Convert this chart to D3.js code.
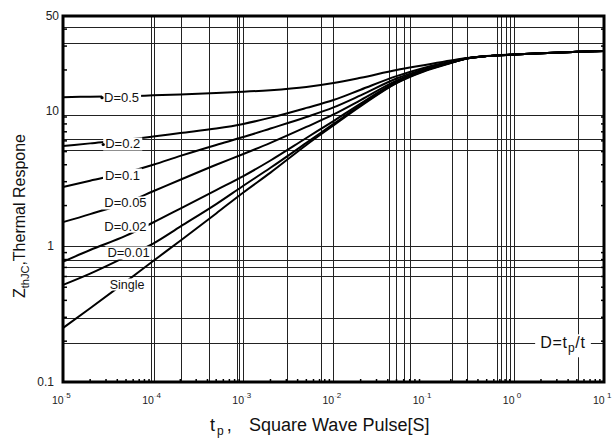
<!DOCTYPE html>
<html><head><meta charset="utf-8">
<script src="https://cdn.jsdelivr.net/npm/d3@7"></script>
<style>body{margin:0;background:#fff}svg{display:block;font-family:"Liberation Sans",Arial,sans-serif}</style>
</head><body><svg id="c" width="614" height="443"></svg>
<script>
// ---- data ----
const tp      = [1e-5, 2e-5, 5e-5, 1e-4, 2e-4, 5e-4, 1e-3, 2e-3, 5e-3, 1e-2, 2e-2, 5e-2, 0.1, 0.2, 0.3, 0.5, 1, 2, 5, 10];
const dHalf   = [12.6, 12.7, 12.8, 13.0, 13.2, 13.5, 13.8, 14.2, 15.0, 16.0, 17.5, 20.0, 21.7, 23.5, 24.5, 25.3, 26.0, 26.6, 27.2, 27.6];
const dFifth  = [5.5, 5.75, 6.1, 6.45, 6.85, 7.4, 8.0, 8.9, 10.5, 12.0, 14.3, 18.0, 20.7, 23.0, 24.4, 25.3, 26.0, 26.6, 27.2, 27.6];
const dTenth  = [2.74, 3.05, 3.5, 4.0, 4.65, 5.6, 6.4, 7.4, 9.0, 10.6, 13.0, 17.3, 20.2, 22.8, 24.3, 25.3, 26.0, 26.6, 27.2, 27.6];
const d005    = [1.51, 1.73, 2.1, 2.55, 3.1, 4.0, 4.8, 5.8, 7.6, 9.4, 12.0, 16.7, 19.9, 22.7, 24.3, 25.3, 26.0, 26.6, 27.2, 27.6];
const d002    = [0.77, 0.94, 1.2, 1.5, 1.9, 2.6, 3.3, 4.3, 6.3, 8.4, 11.3, 16.3, 19.7, 22.6, 24.3, 25.3, 26.0, 26.6, 27.2, 27.6];
const d001    = [0.52, 0.63, 0.84, 1.05, 1.4, 2.05, 2.8, 3.8, 5.8, 8.0, 11.0, 16.1, 19.6, 22.6, 24.3, 25.3, 26.0, 26.6, 27.2, 27.6];
const dSingle = [0.25, 0.35, 0.55, 0.78, 1.1, 1.75, 2.5, 3.5, 5.6, 7.8, 10.8, 16.0, 19.5, 22.5, 24.3, 25.3, 26.0, 26.6, 27.2, 27.6];
const seriesNames = ["D=0.5", "D=0.2", "D=0.1", "D=0.05", "D=0.02", "D=0.01", "Single"];
const seriesVals  = [dHalf, dFifth, dTenth, d005, d002, d001, dSingle];
// label anchor points (tp, Z) where each series name sits
const labelT = [4.46e-5, 4.6e-5, 4.57e-5, 4.93e-5, 4.93e-5, 5.33e-5, 5.13e-5];
const labelZ = [12.6, 5.69, 3.36, 2.09, 1.41, 0.894, 0.528];

const gridT = [9.4e-5, 1.02e-4, 2.03e-4, 4.13e-4, 8.4e-4, 9.0e-4, 1.0e-3, 3.07e-3, 7.2e-3, 9.8e-3,
               4.16e-2, 4.9e-2, 6.05e-2, 7.05e-2, 0.205, 0.305, 0.645, 0.72, 0.81, 0.906, 1.01, 5.19];
const gridZ = [41.7, 31.8, 9.3, 6.2, 5.1, 1.0, 0.80, 0.70, 0.605, 0.295, 0.193];
const xTickExp = [-5, -4, -3, -2, -1, 0, 1];
const yTicks = [0.1, 1, 10, 50];
const yTickLabels = ["0.1", "1", "10", "50"];

// ---- chart ----
const svg = d3.select("#c");
const x = d3.scaleLog().domain([1e-5, 10]).range([63, 604]);
const y = d3.scaleLog().domain([0.1, 50]).range([382, 16]);

// grid
const g = svg.append("g").attr("stroke", "#222").attr("stroke-width", 1).attr("shape-rendering", "crispEdges");
g.selectAll(".gx").data(gridT).join("line")
  .attr("x1", d => Math.round(x(d)) + 0.5).attr("x2", d => Math.round(x(d)) + 0.5)
  .attr("y1", y(50)).attr("y2", y(0.1));
g.selectAll(".gy").data(gridZ).join("line")
  .attr("y1", d => Math.round(y(d)) + 0.5).attr("y2", d => Math.round(y(d)) + 0.5)
  .attr("x1", x(1e-5)).attr("x2", x(10));

// minor ticks
const minorX = [], minorY = [];
for (let e = -5; e < 1; e++) for (let m = 2; m <= 9; m++) minorX.push(m * Math.pow(10, e));
for (let e = -1; e < 2; e++) for (let m = 2; m <= 9; m++) { const v = m * Math.pow(10, e); if (v < 50) minorY.push(v); }
const t = svg.append("g").attr("stroke", "#000").attr("stroke-width", 1.5);
t.selectAll(".mx").data(minorX).join("line")
  .attr("x1", d => x(d)).attr("x2", d => x(d)).attr("y1", y(0.1)).attr("y2", y(0.1) - 3);
t.selectAll(".my").data(minorY).join("line")
  .attr("y1", d => y(d)).attr("y2", d => y(d)).attr("x1", x(1e-5)).attr("x2", x(1e-5) + 4);
t.selectAll(".my2").data(minorY).join("line")
  .attr("y1", d => y(d)).attr("y2", d => y(d)).attr("x1", x(10)).attr("x2", x(10) - 3);

// curves
const line = d3.line().x(d => x(d[0])).y(d => y(d[1])).curve(d3.curveMonotoneX);
svg.append("g").selectAll("path").data(seriesVals).join("path")
  .attr("d", vals => line(vals.map((v, i) => [tp[i], v])))
  .attr("fill", "none").attr("stroke", "#000").attr("stroke-width", 2);

// series labels with white background
const lab = svg.append("g").attr("font-size", 13).attr("fill", "#111");
seriesNames.forEach((name, i) => {
  const gg = lab.append("g");
  const tx = gg.append("text").attr("x", x(labelT[i])).attr("y", y(labelZ[i]) + 4.5)
    .attr("text-anchor", "middle").attr("font-size", i === 6 ? 12.5 : 13).text(name);
  const b = tx.node().getBBox();
  gg.insert("rect", "text").attr("x", b.x - 2).attr("y", b.y + 1).attr("width", b.width + 4).attr("height", b.height - 2).attr("fill", "#fff");
  if (i < 2) {
    gg.append("circle").attr("cx", b.x - 2).attr("cy", y(labelZ[i]) + 0.5).attr("r", 1.6).attr("fill", "#000");
  }
});

// D=tp/t label
{
  const gg = svg.append("g").attr("font-size", 16).attr("fill", "#111");
  const tx = gg.append("text").attr("x", 563).attr("y", y(0.193) + 5).attr("text-anchor", "middle").attr("letter-spacing", 0.8);
  tx.append("tspan").text("D=t");
  tx.append("tspan").attr("font-size", 12).attr("dy", 4).text("p");
  tx.append("tspan").attr("dy", -4).text("/t");
  const b = tx.node().getBBox();
  gg.insert("rect", "text").attr("x", b.x - 5).attr("y", b.y).attr("width", b.width + 10).attr("height", b.height + 2).attr("fill", "#fff");
}

// frame
svg.append("rect").attr("x", x(1e-5)).attr("y", y(50)).attr("width", x(10) - x(1e-5)).attr("height", y(0.1) - y(50))
  .attr("fill", "none").attr("stroke", "#000").attr("stroke-width", 3);

// x tick labels
const xl = svg.append("g").attr("font-size", 10.5).attr("fill", "#222");
xTickExp.forEach(e => {
  const tx = xl.append("text").attr("x", x(Math.pow(10, e)) - 11).attr("y", 404);
  tx.append("tspan").text("10");
  const s = tx.append("tspan").attr("font-size", 8).attr("dy", -6);
  if (e < 0) s.append("tspan").attr("fill", "#ccc").text("-");
  else s.append("tspan").text(" ");
  s.append("tspan").text(Math.abs(e));
});

// y tick labels
svg.append("g").attr("font-size", 12).attr("fill", "#222").attr("text-anchor", "end")
  .selectAll("text").data(yTicks).join("text")
  .attr("x", d => d >= 10 ? 59 : 54).attr("y", d => y(d) + 4).text((d, i) => yTickLabels[i]);

// axis titles
{
  const tx = svg.append("text").attr("x", 210).attr("y", 431).attr("font-size", 18).attr("fill", "#111");
  tx.append("tspan").text("t");
  tx.append("tspan").attr("font-size", 12).attr("dy", 4).attr("dx", 2).text("p");
  tx.append("tspan").attr("dy", -4).attr("dx", 3).text(",");
  tx.append("tspan").attr("x", 249).text("Square Wave Pulse[S]");
}
{
  const tx = svg.append("text").attr("transform", "translate(25,298) rotate(-90)").attr("font-size", 16).attr("fill", "#111");
  tx.append("tspan").text("Z");
  tx.append("tspan").attr("font-size", 11).attr("dy", 4).text("thJC");
  tx.append("tspan").attr("dy", -4).text(",Thermal Respone");
}
</script></body></html>
